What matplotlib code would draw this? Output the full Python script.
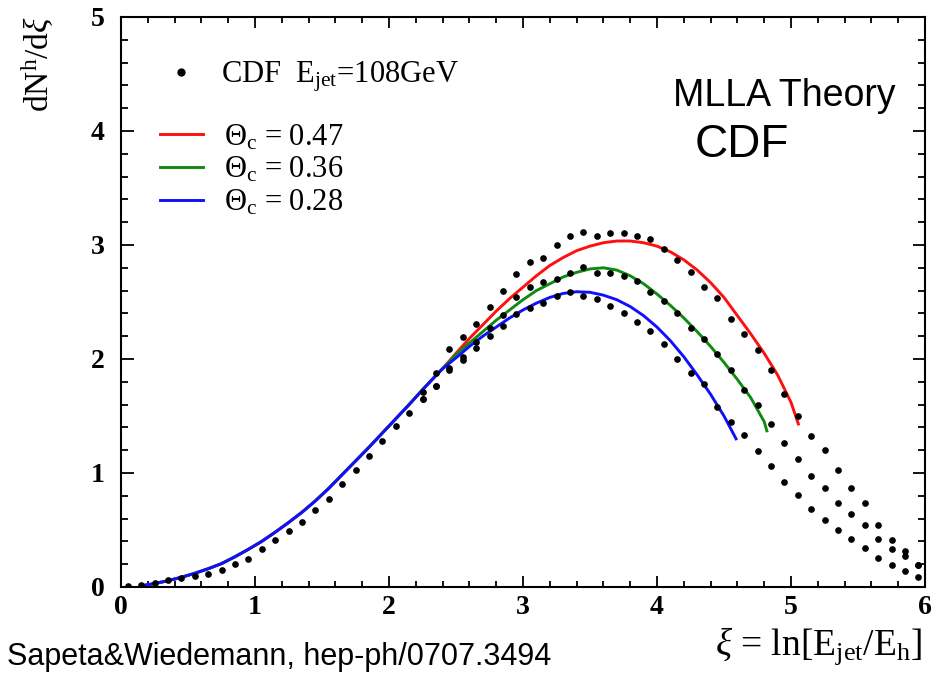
import matplotlib
matplotlib.use("Agg")
import matplotlib.pyplot as plt
from matplotlib.ticker import MultipleLocator

plt.rcParams['font.family'] = ['Liberation Serif', 'DejaVu Serif']
plt.rcParams['mathtext.fontset'] = 'custom'
plt.rcParams['mathtext.rm'] = 'Liberation Serif'
plt.rcParams['mathtext.it'] = 'Liberation Serif:italic'
plt.rcParams['mathtext.bf'] = 'Liberation Serif:bold'

# CDF data, E_jet = 108 GeV (bins where the three cone sizes coincide)
xi_common = [0.05, 0.15, 0.25, 0.35, 0.45, 0.55, 0.65, 0.75, 0.85, 0.95,
             1.05, 1.15, 1.25, 1.35, 1.45, 1.55, 1.65, 1.75, 1.85, 1.95,
             2.05, 2.15]
dn_common = [0.01, 0.02, 0.038, 0.058, 0.075, 0.096, 0.117, 0.149, 0.199, 0.246,
             0.332, 0.409, 0.491, 0.573, 0.675, 0.769, 0.901, 1.026, 1.146, 1.282,
             1.416, 1.53]

# tails for each cone opening angle
xi_tail = [2.25, 2.35, 2.45, 2.55, 2.65, 2.75, 2.85, 2.95, 3.05, 3.15,
           3.25, 3.35, 3.45, 3.55, 3.65, 3.75, 3.85, 3.95, 4.05, 4.15,
           4.25, 4.35, 4.45, 4.55, 4.65, 4.75, 4.85, 4.95, 5.05, 5.15,
           5.25, 5.35, 5.45, 5.55, 5.65, 5.75, 5.85, 5.95]
dn_047 = [1.713, 1.874, 2.085, 2.19, 2.31, 2.459, 2.593, 2.742, 2.85, 2.89,
          3.0, 3.076, 3.117, 3.079, 3.102, 3.102, 3.079, 3.05, 2.965, 2.868,
          2.766, 2.629, 2.532, 2.352, 2.216, 2.079, 1.904, 1.69, 1.503, 1.325,
          1.202, 1.026, 0.866, 0.734, 0.544, 0.412, 0.319, 0.193]
dn_036 = [1.646, 1.763, 1.918, 2.02, 2.15, 2.27, 2.39, 2.541, 2.634, 2.678,
          2.699, 2.757, 2.81, 2.752, 2.752, 2.728, 2.687, 2.59, 2.511, 2.401,
          2.269, 2.177, 2.044, 1.903, 1.728, 1.596, 1.43, 1.26, 1.121, 0.976,
          0.866, 0.734, 0.64, 0.544, 0.421, 0.331, 0.272, 0.19]
dn_028 = [1.646, 1.763, 1.9, 1.99, 2.1, 2.2, 2.289, 2.395, 2.45, 2.494,
          2.553, 2.59, 2.553, 2.523, 2.465, 2.401, 2.327, 2.249, 2.132, 1.998,
          1.881, 1.778, 1.576, 1.444, 1.333, 1.196, 1.061, 0.918, 0.807, 0.681,
          0.588, 0.5, 0.421, 0.339, 0.257, 0.196, 0.143, 0.09]

# MLLA curves (common rising part, then one branch per cone angle)
xi_low = [0.15, 0.25, 0.35, 0.45, 0.55, 0.65, 0.75, 0.85, 0.95, 1.05, 1.15,
          1.25, 1.35, 1.45, 1.55, 1.65, 1.75, 1.85, 1.95, 2.05, 2.15, 2.25,
          2.35, 2.4]
mlla_low = [0.01, 0.03, 0.055, 0.085, 0.12, 0.16, 0.205, 0.265, 0.33, 0.40,
            0.48, 0.565, 0.655, 0.755, 0.865, 0.985, 1.105, 1.225, 1.35, 1.475,
            1.60, 1.73, 1.855, 1.915]
xi_r = [2.5, 2.6, 2.7, 2.8, 2.9, 3.0, 3.1, 3.2, 3.3, 3.4, 3.5, 3.6, 3.7, 3.8,
        3.9, 4.0, 4.1, 4.2, 4.3, 4.4, 4.5, 4.6, 4.7, 4.8, 4.9, 5.0, 5.055]
mlla_r = [2.05, 2.18, 2.30, 2.42, 2.53, 2.63, 2.73, 2.82, 2.89, 2.95, 2.99,
          3.02, 3.035, 3.035, 3.02, 2.99, 2.94, 2.87, 2.78, 2.67, 2.54, 2.38,
          2.22, 2.05, 1.86, 1.62, 1.43]
xi_g = [2.5, 2.6, 2.7, 2.8, 2.9, 3.0, 3.1, 3.2, 3.3, 3.4, 3.5, 3.6, 3.7, 3.8,
        3.9, 4.0, 4.1, 4.2, 4.3, 4.4, 4.5, 4.6, 4.7, 4.8, 4.82]
mlla_g = [2.04, 2.14, 2.24, 2.34, 2.43, 2.52, 2.60, 2.66, 2.72, 2.76, 2.79,
          2.80, 2.78, 2.73, 2.66, 2.57, 2.47, 2.36, 2.24, 2.11, 1.97, 1.82,
          1.66, 1.45, 1.37]
xi_b = [2.5, 2.6, 2.7, 2.8, 2.9, 3.0, 3.1, 3.2, 3.3, 3.4, 3.5, 3.6, 3.7, 3.8,
        3.9, 4.0, 4.1, 4.2, 4.3, 4.4, 4.5, 4.59]
mlla_b = [2.01, 2.11, 2.20, 2.28, 2.36, 2.43, 2.49, 2.54, 2.575, 2.59, 2.585,
          2.56, 2.52, 2.46, 2.38, 2.28, 2.16, 2.02, 1.86, 1.69, 1.50, 1.30]

labels = [r'$\Theta_{\mathrm{c}}$ = 0.47', r'$\Theta_{\mathrm{c}}$ = 0.36',
          r'$\Theta_{\mathrm{c}}$ = 0.28']

fig = plt.figure(figsize=(9.32, 6.73), dpi=100)
ax = fig.add_axes([121/932, 1 - 587/673, 804/932, 570/673])

lines = []
for xs, ys, c, lab in [(xi_r, mlla_r, '#ff1010', labels[0]),
                       (xi_g, mlla_g, '#108a10', labels[1]),
                       (xi_b, mlla_b, '#1010ff', labels[2])]:
    l, = ax.plot(xi_low + xs, mlla_low + ys, color=c, lw=2.1, label=lab, zorder=2)
    lines.append(l)

dots, = ax.plot(xi_common, dn_common, 'o', color='black', ms=3.8, zorder=3)
for ys in (dn_047, dn_036, dn_028):
    ax.plot(xi_tail, ys, 'o', color='black', ms=3.8, zorder=3)

ax.set_xlim(0, 6)
ax.set_ylim(0, 5)
ax.xaxis.set_major_locator(MultipleLocator(1))
ax.xaxis.set_minor_locator(MultipleLocator(0.2))
ax.yaxis.set_major_locator(MultipleLocator(1))
ax.yaxis.set_minor_locator(MultipleLocator(0.2))
ax.tick_params(which='both', direction='in', top=True, right=True, width=1.3)
ax.tick_params(axis='y', which='major', length=9, pad=12)
ax.tick_params(axis='y', which='minor', length=5)
ax.tick_params(axis='x', which='major', length=8, pad=6)
ax.tick_params(axis='x', which='minor', length=4)
for lab in ax.get_xticklabels() + ax.get_yticklabels():
    lab.set_fontsize(20)
    lab.set_fontweight('bold')
for s in ax.spines.values():
    s.set_linewidth(1.5)

leg1 = ax.legend([dots], [r'CDF  E$_{\mathrm{jet}}$=108GeV'], loc='center left',
                 bbox_to_anchor=(0.0485, 0.8947), frameon=False, fontsize=22,
                 handlelength=1.4, handletextpad=0.6, borderpad=0,
                 borderaxespad=0, markerscale=1.3)
ax.add_artist(leg1)
ax.legend(handles=lines, loc='center left', bbox_to_anchor=(0.0485, 0.7316),
          frameon=False, fontsize=22, handlelength=1.4, handletextpad=0.7,
          borderpad=0, borderaxespad=0, labelspacing=0.1)

fig.text(38/932, 1 - 64/673, r'dN$^{\mathrm{h}}$/d$\xi$', rotation=90,
         fontsize=24, ha='center', va='center')
fig.text(922/932, 1 - 655/673, r'$\xi$ = ln[E$_{\mathrm{jet}}$/E$_{\mathrm{h}}$]',
         fontsize=27, ha='right', va='baseline')

fig.text(673/932, 1 - 106/673, 'MLLA Theory', family='Liberation Sans',
         fontsize=27, ha='left', va='baseline')
fig.text(695/932, 1 - 157/673, 'CDF', family='Liberation Sans',
         fontsize=33, ha='left', va='baseline')
fig.text(7/932, 1 - 665/673, 'Sapeta&Wiedemann, hep-ph/0707.3494',
         family='Liberation Sans', fontsize=22, ha='left', va='baseline')

fig.savefig('out.png', dpi=100)
